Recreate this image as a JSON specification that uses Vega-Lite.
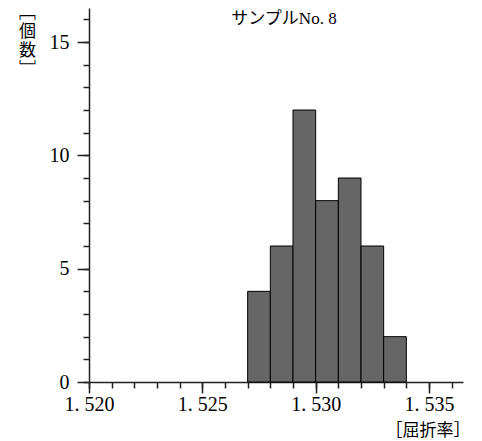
{
  "$schema": "https://vega.github.io/schema/vega-lite/v6.json",
  "width": 374,
  "height": 374,
  "autosize": {"type": "none"},
  "padding": {"left": 89, "top": 8, "right": 19, "bottom": 59},
  "background": "white",
  "config": {
    "view": {"stroke": null},
    "axis": {"grid": false, "domainColor": "#222", "domainWidth": 1.5, "tickColor": "#222", "tickWidth": 1.5, "labelColor": "black", "titleColor": "black"}
  },
  "title": {
    "text": "サンプルNo. 8",
    "font": "Liberation Serif, Noto Sans CJK JP",
    "fontSize": 17,
    "fontWeight": "normal",
    "color": "black",
    "anchor": "middle",
    "baseline": "top",
    "offset": -25,
    "dx": 8
  },
  "data": {
    "values": [
      {"bin_start": 1.527, "bin_end": 1.528, "count": 4},
      {"bin_start": 1.528, "bin_end": 1.529, "count": 6},
      {"bin_start": 1.529, "bin_end": 1.530, "count": 12},
      {"bin_start": 1.530, "bin_end": 1.531, "count": 8},
      {"bin_start": 1.531, "bin_end": 1.532, "count": 9},
      {"bin_start": 1.532, "bin_end": 1.533, "count": 6},
      {"bin_start": 1.533, "bin_end": 1.534, "count": 2}
    ]
  },
  "layer": [
    {
      "mark": {"type": "bar", "fill": "#666666", "stroke": "black", "strokeWidth": 1},
      "encoding": {
        "x": {
          "field": "bin_start", "type": "quantitative",
          "scale": {"domain": [1.52, 1.5365], "nice": false, "zero": false},
          "axis": {
            "orient": "bottom",
            "values": [1.52, 1.525, 1.53, 1.535],
            "tickSize": 11,
            "labelExpr": "replace(format(datum.value, '.3f'), '.', '. ')",
            "labelFont": "Liberation Serif",
            "labelFontSize": 20,
            "labelPadding": 1,
            "labelFlush": false,
            "labelOverlap": false,
            "title": "［屈折率］",
            "titleFont": "Noto Sans CJK JP",
            "titleFontSize": 17,
            "titleFontWeight": "normal",
            "titleAlign": "right",
            "titleBaseline": "middle",
            "titleX": 381,
            "titleY": 48
          }
        },
        "x2": {"field": "bin_end"},
        "y": {
          "field": "count", "type": "quantitative",
          "scale": {"domain": [0, 16.5], "nice": false},
          "axis": {
            "orient": "left",
            "values": [0, 5, 10, 15],
            "tickSize": 12,
            "labelFont": "Liberation Serif",
            "labelFontSize": 20,
            "labelPadding": 8,
            "labelOverlap": false,
            "title": ["﹇", "個", "数", "﹈"],
            "titleFont": "Noto Sans CJK JP",
            "titleFontSize": 17,
            "titleFontWeight": "normal",
            "titleAngle": 0,
            "titleAlign": "center",
            "titleBaseline": "top",
            "titleLineHeight": 19,
            "titleX": -62,
            "titleY": -4
          }
        },
        "y2": {"datum": 0}
      }
    },
    {
      "mark": {"type": "bar", "opacity": 0},
      "encoding": {
        "x": {
          "field": "bin_start", "type": "quantitative",
          "axis": {
            "orient": "bottom",
            "values": [1.52, 1.521, 1.522, 1.523, 1.524, 1.525, 1.526, 1.527, 1.528, 1.529, 1.53, 1.531, 1.532, 1.533, 1.534, 1.535, 1.536],
            "tickSize": 6,
            "labels": false,
            "domain": false,
            "title": null
          }
        },
        "x2": {"field": "bin_end"},
        "y": {
          "field": "count", "type": "quantitative",
          "axis": {
            "orient": "left",
            "values": [0, 1, 2, 3, 4, 5, 6, 7, 8, 9, 10, 11, 12, 13, 14, 15, 16],
            "tickSize": 6,
            "labels": false,
            "domain": false,
            "title": null
          }
        },
        "y2": {"datum": 0}
      }
    }
  ],
  "resolve": {"axis": {"x": "independent", "y": "independent"}}
}
